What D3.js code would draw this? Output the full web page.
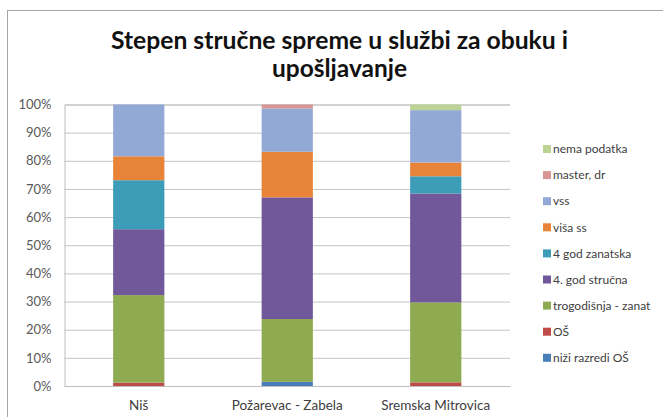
<!DOCTYPE html>
<html>
<head>
<meta charset="utf-8">
<script src="https://cdn.jsdelivr.net/npm/d3@7"></script>
<style>
  body { margin: 0; background: #fff; }
  text { font-family: Lato, "Open Sans", sans-serif; }
</style>
</head>
<body>
<div id="chart"></div>
<script>
// categories and series (percent of staff per education level)
var categories = ["Niš", "Požarevac - Zabela", "Sremska Mitrovica"];
var seriesNames = ["niži razredi OŠ", "OŠ", "trogodišnja - zanat", "4. god stručna",
                   "4 god zanatska", "viša ss", "vss", "master, dr", "nema podatka"];
var nizi      = [0,    1.5,  0];
var os        = [1.2,  0,    1.3];
var trogod    = [31.1, 22.3, 28.4];
var strucna   = [23.4, 43.2, 38.7];
var zanatska  = [17.4, 0,    6.1];
var visa      = [8.5,  16.2, 4.9];
var vss       = [18.4, 15.4, 18.6];
var master    = [0,    1.4,  0];
var nema      = [0,    0,    2.0];
var yTicks = [0, 0.1, 0.2, 0.3, 0.4, 0.5, 0.6, 0.7, 0.8, 0.9, 1];
var colors = ["#4a7ebb", "#be4b48", "#8eab51", "#71589a", "#3d9cb8",
              "#e8843a", "#93a9d5", "#d99593", "#bcd395"];

var seriesValues = [nizi, os, trogod, strucna, zanatska, visa, vss, master, nema];

var W = 663, H = 417;
var margin = {top: 104.5, left: 64.5, right: 153, bottom: 31};
var width = W - margin.left - margin.right;
var height = H - margin.top - margin.bottom;

var svg = d3.select("#chart").append("svg")
    .attr("width", W)
    .attr("height", H);

// outer frame (cut off at right/bottom in the source)
svg.append("rect")
    .attr("x", 7.5).attr("y", 10.5)
    .attr("width", 700).attr("height", 500)
    .attr("fill", "none")
    .attr("stroke", "#a6a6a6")
    .attr("stroke-width", 1);

// title
svg.append("text")
    .attr("x", 339.5).attr("y", 48.5)
    .attr("text-anchor", "middle")
    .attr("textLength", 457).attr("lengthAdjust", "spacingAndGlyphs")
    .style("font-size", "24px").style("font-weight", "bold").style("fill", "#111")
    .text("Stepen stručne spreme u službi za obuku i");
svg.append("text")
    .attr("x", 339.5).attr("y", 77)
    .attr("text-anchor", "middle")
    .attr("textLength", 135).attr("lengthAdjust", "spacingAndGlyphs")
    .style("font-size", "24px").style("font-weight", "bold").style("fill", "#111")
    .text("upošljavanje");

var g = svg.append("g")
    .attr("transform", "translate(" + margin.left + "," + margin.top + ")");

var x = d3.scaleBand()
    .domain(categories)
    .range([0, width])
    .paddingInner(0.655)
    .paddingOuter(0.3275);

var y = d3.scaleLinear()
    .domain([0, 1])
    .range([height, 0]);

// y axis with gridlines
var yAxis = d3.axisLeft(y)
    .tickValues(yTicks)
    .tickFormat(d3.format(".0%"))
    .tickSize(-width)
    .tickPadding(13);

var yg = g.append("g").attr("class", "y axis").call(yAxis);
yg.select(".domain").attr("stroke", "#bfbfbf");
yg.selectAll(".tick line").attr("stroke", "#c4c4c4");
yg.selectAll(".tick text").style("font-size", "13px").style("fill", "#595959");

// x axis
var xAxis = d3.axisBottom(x).tickSize(0).tickPadding(14);
var xg = g.append("g").attr("class", "x axis")
    .attr("transform", "translate(0," + height + ")")
    .call(xAxis);
xg.select(".domain").attr("stroke", "#bfbfbf");
xg.selectAll(".tick text").style("font-size", "13.5px").style("fill", "#404040");

// stacked data
var rows = categories.map(function(c, i) {
    var r = {category: c};
    seriesNames.forEach(function(s, j) { r[s] = seriesValues[j][i] / 100; });
    return r;
});
var stack = d3.stack().keys(seriesNames);
var layers = stack(rows);

var color = d3.scaleOrdinal().domain(seriesNames).range(colors);

g.selectAll(".layer")
    .data(layers)
    .enter().append("g")
    .attr("class", "layer")
    .attr("fill", function(d) { return color(d.key); })
    .selectAll("rect")
    .data(function(d) { return d; })
    .enter().append("rect")
    .attr("x", function(d) { return x(d.data.category); })
    .attr("width", x.bandwidth())
    .attr("y", function(d) { return y(d[1]); })
    .attr("height", function(d) { return y(d[0]) - y(d[1]); });

// legend (reverse order, top = last series)
var legend = svg.selectAll(".legend")
    .data(seriesNames.slice().reverse())
    .enter().append("g")
    .attr("class", "legend")
    .attr("transform", function(d, i) { return "translate(543," + (149 + i * 26.1) + ")"; });

legend.append("rect")
    .attr("x", 0).attr("y", -4)
    .attr("width", 8).attr("height", 8)
    .attr("fill", function(d) { return color(d); });

legend.append("text")
    .attr("x", 10)
    .attr("dy", "0.35em")
    .style("font-size", "12px")
    .style("fill", "#404040")
    .text(function(d) { return d; });
</script>
</body>
</html>
